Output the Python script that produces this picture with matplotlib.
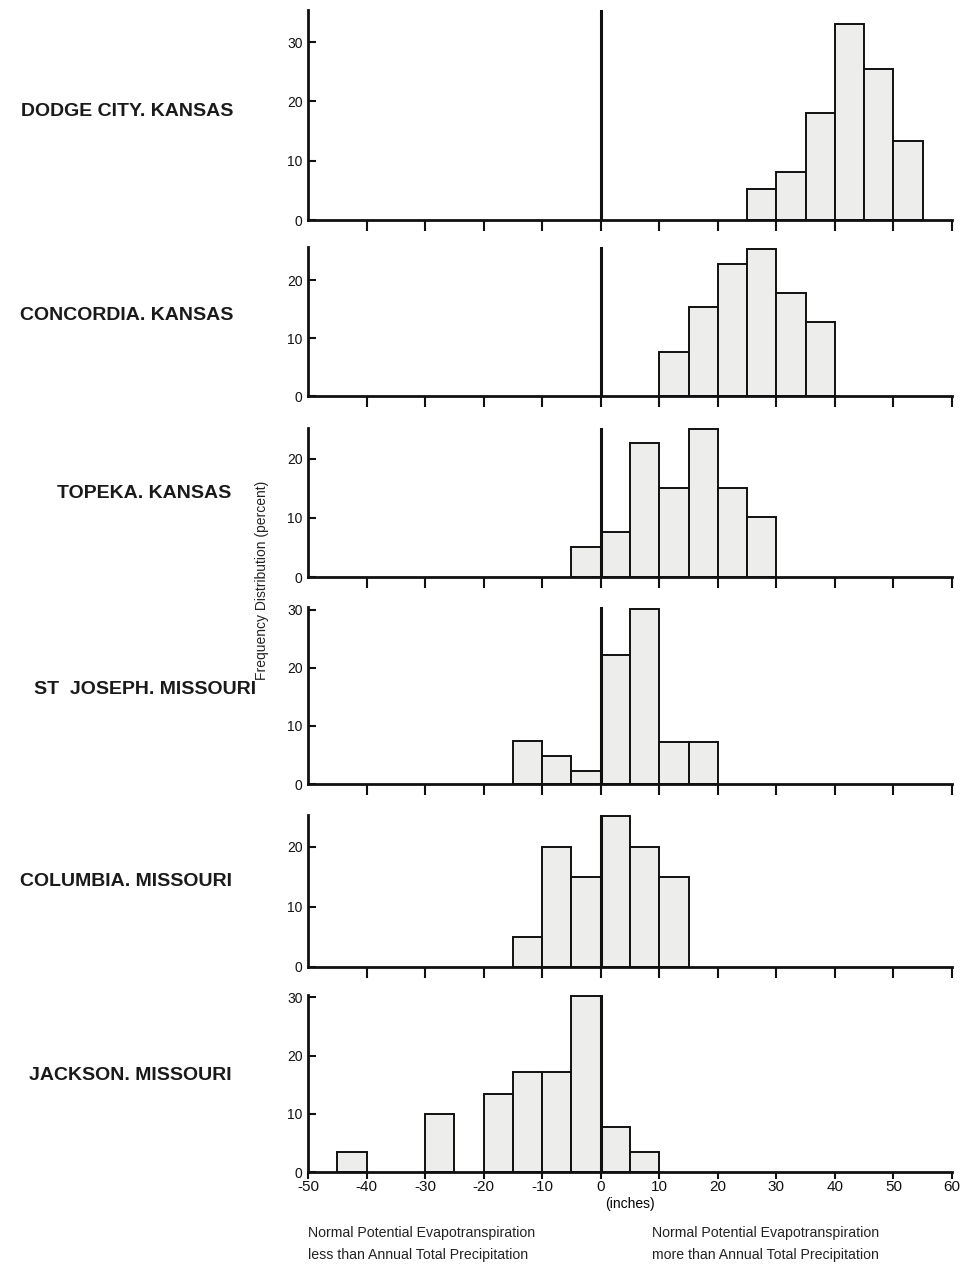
"""Frequency distribution of (PET - precipitation) for six stations"""
import matplotlib
matplotlib.use('Agg')
import matplotlib.pyplot as plt

plt.rcParams['font.family'] = ['Liberation Sans Narrow', 'Liberation Sans', 'DejaVu Sans']

# stations, top to bottom
stations = ['DODGE CITY. KANSAS', 'CONCORDIA. KANSAS', 'TOPEKA. KANSAS',
            'ST  JOSEPH. MISSOURI', 'COLUMBIA. MISSOURI', 'JACKSON. MISSOURI']

# left edge of each 5-inch class and its frequency (percent)
dodge_edges = [25, 30, 35, 40, 45, 50]
dodge_freq = [5.2, 8.1, 18.0, 33.0, 25.5, 13.3]

concordia_edges = [10, 15, 20, 25, 30, 35]
concordia_freq = [7.6, 15.3, 22.7, 25.4, 17.7, 12.8]

topeka_edges = [-5, 0, 5, 10, 15, 20, 25]
topeka_freq = [5.0, 7.6, 22.7, 15.1, 25.0, 15.1, 10.1]

stjoseph_edges = [-15, -10, -5, 0, 5, 10, 15]
stjoseph_freq = [7.4, 4.9, 2.3, 22.3, 30.2, 7.3, 7.3]

columbia_edges = [-15, -10, -5, 0, 5, 10]
columbia_freq = [5.0, 20.0, 15.0, 25.1, 20.0, 15.0]

jackson_edges = [-45, -30, -20, -15, -10, -5, 0, 5]
jackson_freq = [3.4, 10.0, 13.4, 17.2, 17.2, 30.2, 7.8, 3.5]

x_ticks = [-50, -40, -30, -20, -10, 0, 10, 20, 30, 40, 50, 60]
x_labels = ['-50', '-40', '-30', '-20', '-10', '0', '10', '20', '30', '40', '50', '60']

all_edges = [dodge_edges, concordia_edges, topeka_edges,
             stjoseph_edges, columbia_edges, jackson_edges]
all_freq = [dodge_freq, concordia_freq, topeka_freq,
            stjoseph_freq, columbia_freq, jackson_freq]

# panel layout in pixels: (top, bottom, y max, y ticks)
W, H = 962, 1275
panels = [
    (10, 220, 35.4, [0, 10, 20, 30]),
    (247, 396, 25.7, [0, 10, 20]),
    (428, 577, 25.2, [0, 10, 20]),
    (607, 784, 30.5, [0, 10, 20, 30]),
    (815, 967, 25.3, [0, 10, 20]),
    (995, 1172, 30.4, [0, 10, 20, 30]),
]
# station label anchor (right edge x, centre y) in pixels
label_pos = [(233, 111), (233, 315), (231, 493), (256, 690), (232, 882), (232, 1076)]

fig = plt.figure(figsize=(W / 100, H / 100), dpi=100)
fig.patch.set_facecolor('white')

left, right = 308, 952
for i, (top, bot, ymax, yt) in enumerate(panels):
    ax = fig.add_axes([left / W, 1 - bot / H, (right - left) / W, (bot - top) / H])
    ax.bar(all_edges[i], all_freq[i], width=5, align='edge',
           facecolor='#ededeb', edgecolor='#111111', linewidth=1.4, zorder=2)
    ax.axvline(0, color='#111111', linewidth=2.2, zorder=3)
    ax.set_xlim(-50, 60)
    ax.set_ylim(0, ymax)
    for s in ['top', 'right']:
        ax.spines[s].set_visible(False)
    for s in ['left', 'bottom']:
        ax.spines[s].set_linewidth(2)
        ax.spines[s].set_color('#111111')
    ax.set_yticks(yt)
    ax.set_xticks(x_ticks[1:])
    ax.tick_params(axis='y', direction='in', length=6, width=1.5,
                   labelsize=10, pad=4, colors='#111111')
    ax.tick_params(axis='x', direction='out', length=8, width=1.5,
                   labelsize=11, colors='#111111')
    if i == len(panels) - 1:
        ax.set_xticks(x_ticks)
        ax.set_xticklabels(x_labels)
        ax.tick_params(axis='x', length=5, pad=1)
        ax.set_xlabel('(inches)', fontsize=10, labelpad=2)
    else:
        ax.set_xticklabels([])
    lx, ly = label_pos[i]
    fig.text(lx / W, 1 - ly / H, stations[i],
             ha='right', va='center', fontsize=14, fontweight='bold',
             family=['Liberation Sans', 'DejaVu Sans'], color='#1a1a1a')

fig.text(262 / W, 1 - 580 / H, 'Frequency Distribution (percent)', rotation=90,
         ha='center', va='center', fontsize=10, color='#222222',
         family=['Liberation Sans', 'DejaVu Sans'])

fig.text(308 / W, 1 - 1244 / H,
         'Normal Potential Evapotranspiration\nless than Annual Total Precipitation',
         ha='left', va='center', fontsize=10.2, linespacing=1.65, color='#222222',
         family=['Liberation Sans', 'DejaVu Sans'])
fig.text(652 / W, 1 - 1244 / H,
         'Normal Potential Evapotranspiration\nmore than Annual Total Precipitation',
         ha='left', va='center', fontsize=10.2, linespacing=1.65, color='#222222',
         family=['Liberation Sans', 'DejaVu Sans'])

fig.savefig('out.png', dpi=100)
